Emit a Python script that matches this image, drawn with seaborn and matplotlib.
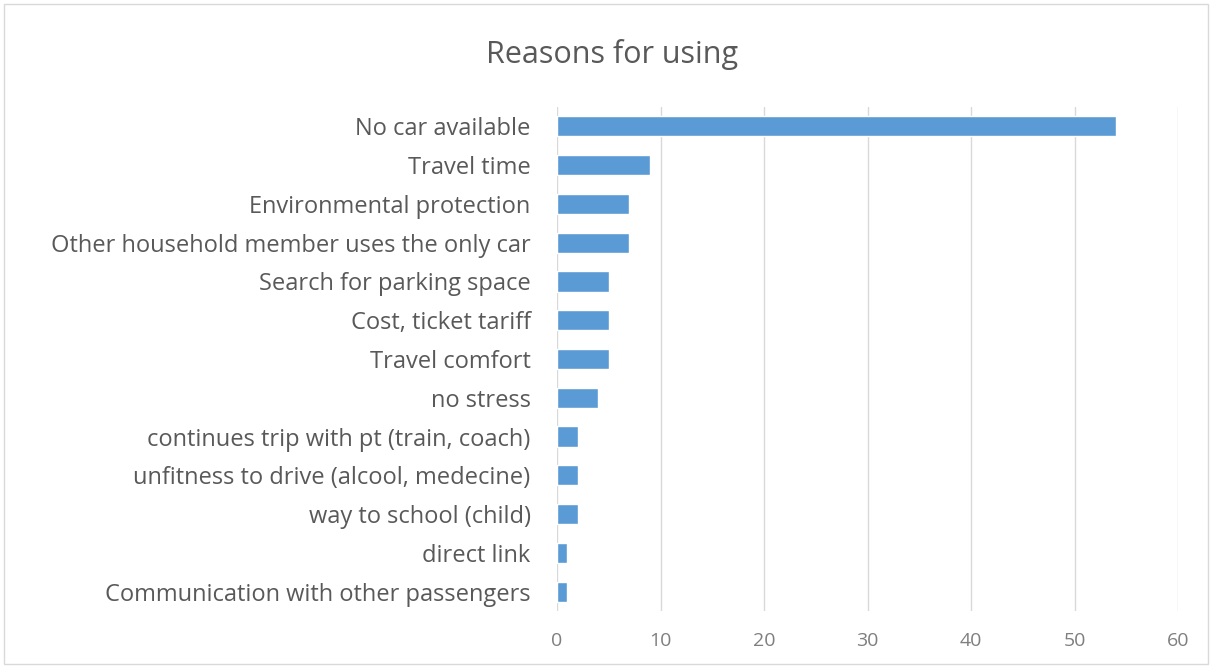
import pandas as pd
import matplotlib.pyplot as plt
import seaborn as sns

# data
reasons = [
    'No car available',
    'Travel time',
    'Environmental protection',
    'Other household member uses the only car',
    'Search for parking space',
    'Cost, ticket tariff',
    'Travel comfort',
    'no stress',
    'continues trip with pt (train, coach)',
    'unfitness to drive (alcool, medecine)',
    'way to school (child)',
    'direct link',
    'Communication with other passengers',
]
counts = [54, 9, 7, 7, 5, 5, 5, 4, 2, 2, 2, 1, 1]
x_ticks = [0, 10, 20, 30, 40, 50, 60]

df = pd.DataFrame({'reason': reasons, 'count': counts})

sns.set_theme(style='white')
plt.rcParams['font.family'] = ['Open Sans', 'DejaVu Sans']
text_col = '#595959'

fig = plt.figure(figsize=(12.12, 6.67), dpi=100)
ax = fig.add_axes([557 / 1212, 1 - 611 / 667, (1178 - 557) / 1212, (611 - 107) / 667])

sns.barplot(data=df, x='count', y='reason', orient='h', color='#5B9BD5',
            width=0.52, saturation=1, ax=ax)

ax.set_xlim(0, 60)
ax.set_xticks(x_ticks)
ax.grid(axis='x', color='#D9D9D9', linewidth=1)
ax.set_axisbelow(True)
for s in ax.spines.values():
    s.set_visible(False)
ax.tick_params(axis='both', length=0)
ax.tick_params(axis='y', labelsize=17, pad=19, labelcolor=text_col)
ax.tick_params(axis='x', labelsize=14, pad=15, labelcolor='#7F7F7F')
ax.set_xlabel('')
ax.set_ylabel('')

fig.text(612 / 1212, 1 - 55 / 667, 'Reasons for using', ha='center', va='center',
         fontsize=22, color=text_col)

# thin frame around the whole chart, as in the spreadsheet export
border = plt.Rectangle((0.003, 0.004), 0.994, 0.99, transform=fig.transFigure,
                       fill=False, edgecolor='#D9D9D9', linewidth=1)
fig.patches.append(border)

fig.savefig('out.png', dpi=100, facecolor='white')
